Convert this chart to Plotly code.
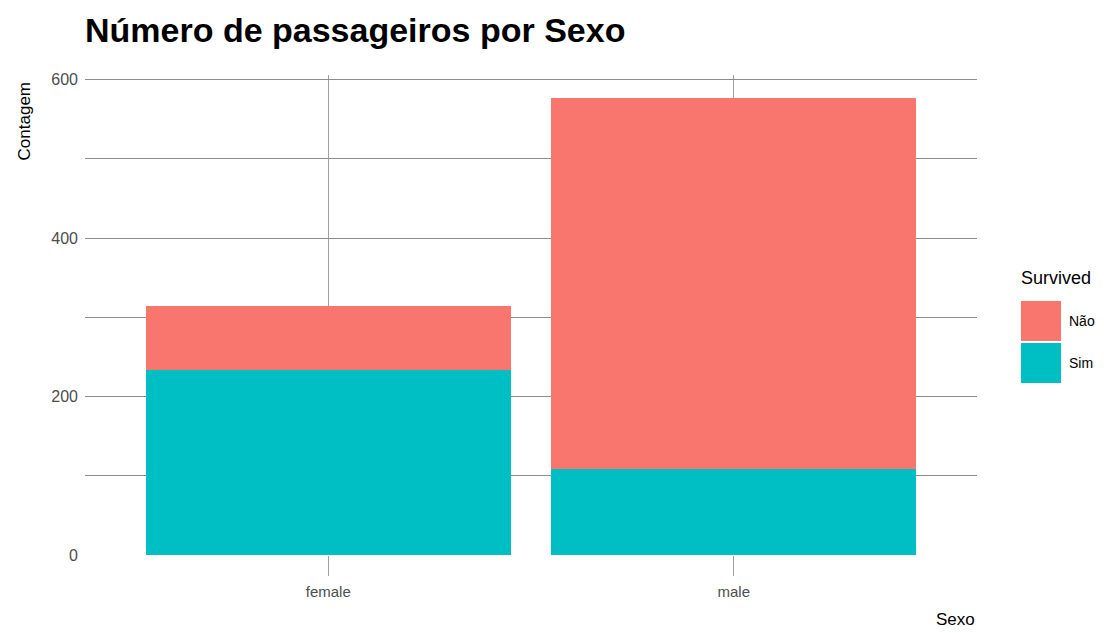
"""Número de passageiros por Sexo (Titanic), barras empilhadas por Survived."""
import plotly.graph_objects as go

SEXO = ["female", "male"]
SIM = [233, 109]
NAO = [81, 468]
SERIES = ["Não", "Sim"]
COLORS = {"Não": "#F8766D", "Sim": "#00BFC4"}
Y_TICKS = [0, 200, 400, 600]

FONT = "Liberation Sans, Arial, sans-serif"
GRID = "#a0a0a0"

fig = go.Figure()
fig.add_trace(go.Bar(x=SEXO, y=SIM, name="Sim", marker=dict(color=COLORS["Sim"], line_width=0),
                     width=0.9, showlegend=False))
fig.add_trace(go.Bar(x=SEXO, y=NAO, name="Não", marker=dict(color=COLORS["Não"], line_width=0),
                     width=0.9, showlegend=False))

# legenda desenhada à mão (quadrados grandes estilo ggplot)
shapes = []
annots = [
    dict(text="Survived", x=1.047, y=0.577, xref="paper", yref="paper", xanchor="left",
         yanchor="middle", showarrow=False, font=dict(size=18, color="#000")),
]
for i, s in enumerate(SERIES):
    y1 = 0.529 - i * 0.0875
    shapes.append(dict(type="rect", xref="paper", yref="paper", x0=1.0493, x1=1.0942,
                       y0=y1 - 0.0833, y1=y1, fillcolor=COLORS[s], line_width=0, layer="above"))
    annots.append(dict(text=s, x=1.101, y=y1 - 0.0417, xref="paper", yref="paper",
                       xanchor="left", yanchor="middle", showarrow=False,
                       font=dict(size=14, color="#000")))
annots += [
    dict(text="Contagem", textangle=-90, x=-0.068, y=0.904, xref="paper", yref="paper",
         xanchor="center", yanchor="middle", showarrow=False, font=dict(size=17, color="#000")),
    dict(text="Sexo", x=1.0, y=-0.135, xref="paper", yref="paper", xanchor="right",
         yanchor="middle", showarrow=False, font=dict(size=17, color="#000")),
]

fig.update_layout(
    barmode="stack", width=1104, height=633, bargap=0,
    plot_bgcolor="white", paper_bgcolor="white",
    font=dict(family=FONT, color="#4d4d4d"),
    margin=dict(l=85, r=127, t=75, b=78),
    title=dict(text="<b>Número de passageiros por Sexo</b>", x=0.077, xanchor="left",
               y=0.953, yanchor="middle", yref="container",
               font=dict(size=34, color="#000", family=FONT)),
    shapes=shapes, annotations=annots,
)
fig.update_xaxes(range=[-0.6, 1.6], showgrid=True, gridcolor=GRID, gridwidth=1,
                 ticks="outside", ticklen=20, tickcolor=GRID, tickwidth=1,
                 ticklabelstandoff=3,
                 showline=False, zeroline=False, tickfont=dict(size=15, color="#4d4d4d"))
fig.update_yaxes(range=[0, 606], tickvals=Y_TICKS, showgrid=True, gridcolor="#8c8c8c",
                 gridwidth=1, zeroline=False, showline=False, ticks="",
                 ticklabelstandoff=6,
                 minor=dict(dtick=100, showgrid=True, gridcolor="#8c8c8c", gridwidth=1),
                 tickfont=dict(size=16, color="#4d4d4d"))

fig.write_html("out.html", config={"displayModeBar": False},
               post_script="document.body.style.margin='0';")
